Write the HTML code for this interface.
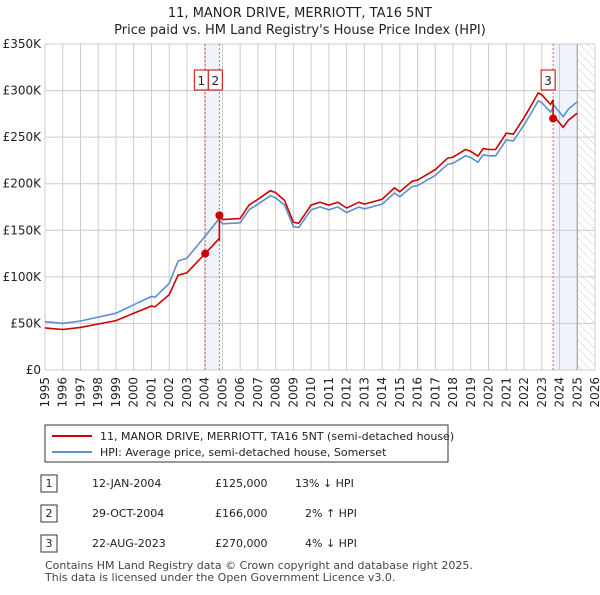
<!DOCTYPE html>
<html><head><meta charset="utf-8"><style>
body{margin:0;background:#fff;font-family:"Liberation Sans","DejaVu Sans",sans-serif;}
svg text{font-family:"DejaVu Sans","Liberation Sans",sans-serif;}
</style></head><body>
<svg id="c" width="600" height="590" viewBox="0 0 600 590" xmlns="http://www.w3.org/2000/svg">
<defs><pattern id="hatch" width="6" height="6" patternUnits="userSpaceOnUse" patternTransform="rotate(-45)"><line x1="0" y1="0" x2="0" y2="6" stroke="#ccc" stroke-width="1"/></pattern></defs>
<text x="300" y="17" text-anchor="middle" font-size="13" fill="#222">11, MANOR DRIVE, MERRIOTT, TA16 5NT</text>
<text x="300" y="34" text-anchor="middle" font-size="13" fill="#222">Price paid vs. HM Land Registry's House Price Index (HPI)</text>
<g id="plot"></g>
<g>
<rect x="45" y="425" width="403" height="37" fill="#fff" stroke="#333" stroke-width="1"/>
<line x1="52" y1="436" x2="92" y2="436" stroke="#cc0000" stroke-width="2"/>
<text x="100" y="440" font-size="11" fill="#222">11, MANOR DRIVE, MERRIOTT, TA16 5NT (semi-detached house)</text>
<line x1="52" y1="452" x2="92" y2="452" stroke="#5b8fd0" stroke-width="2"/>
<text x="100" y="456" font-size="11" fill="#222">HPI: Average price, semi-detached house, Somerset</text>
</g>
<g font-size="11" fill="#222">
<rect x="41" y="475" width="16" height="17" fill="#fff" stroke="#333"/><text x="49" y="487" text-anchor="middle">1</text>
<text x="92" y="487">12-JAN-2004</text><text x="215" y="487">£125,000</text><text x="295" y="487">13% ↓ HPI</text>
<rect x="41" y="505" width="16" height="17" fill="#fff" stroke="#333"/><text x="49" y="517" text-anchor="middle">2</text>
<text x="92" y="517">29-OCT-2004</text><text x="215" y="517">£166,000</text><text x="305" y="517">2% ↑ HPI</text>
<rect x="41" y="535" width="16" height="17" fill="#fff" stroke="#333"/><text x="49" y="547" text-anchor="middle">3</text>
<text x="92" y="547">22-AUG-2023</text><text x="215" y="547">£270,000</text><text x="305" y="547">4% ↓ HPI</text>
</g>
<text x="45" y="569" font-size="11" fill="#444">Contains HM Land Registry data © Crown copyright and database right 2025.</text>
<text x="45" y="581" font-size="11" fill="#444">This data is licensed under the Open Government Licence v3.0.</text>
</svg>
<script>
const hpiYears=[1995,1996,1997,1998,1999,2000,2001,2001.2,2002,2002.5,2003,2004,2004.8,2005,2006,2006.5,2007,2007.7,2008,2008.5,2009,2009.3,2009.6,2010,2010.5,2011,2011.5,2012,2012.7,2013,2014,2014.7,2015,2015.7,2016,2017,2017.7,2018,2018.7,2019,2019.4,2019.7,2020,2020.4,2021,2021.4,2022,2022.5,2022.8,2023,2023.5,2023.7,2024.2,2024.5,2025];
const hpiValues=[52000,50000,52600,56800,61000,70000,79000,78000,93000,117000,120000,143000,162000,157000,158000,172000,178000,187000,185000,177000,154000,153000,161000,172000,175000,172000,175000,169000,175000,173000,178000,190000,186000,197000,198000,209000,221000,222000,230000,228000,223000,231000,230000,230000,247000,246000,263000,279000,289000,287000,277000,284000,272000,280000,288000];
const saleYears=[2004.03,2004.83,2023.64];
const salePrices=[125000,166000,270000];
const saleLabels=["1","2","3"];
const yTicks=[0,50000,100000,150000,200000,250000,300000,350000];
const yTickLabels=["£0","£50K","£100K","£150K","£200K","£250K","£300K","£350K"];
const xTicks=[];for(let y=1995;y<=2026;y++)xTicks.push(y);
const L=45,R=595,T=44,B=370,X0=1995,X1=2026,YMAX=350000,HATCH=2025;
const sx=v=>L+(v-X0)/(X1-X0)*(R-L), sy=v=>B-v/YMAX*(B-T);
const NS="http://www.w3.org/2000/svg", g=document.getElementById('plot');
function mk(t,a,p){const e=document.createElementNS(NS,t);for(const k in a)e.setAttribute(k,a[k]);(p||g).appendChild(e);return e;}
function hpiAt(t){if(t<=hpiYears[0])return hpiValues[0];for(let i=1;i<hpiYears.length;i++){if(t<=hpiYears[i]){const f=(t-hpiYears[i-1])/(hpiYears[i]-hpiYears[i-1]);return hpiValues[i-1]+f*(hpiValues[i]-hpiValues[i-1]);}}return hpiValues[hpiValues.length-1];}
let e=mk('rect',{x:sx(saleYears[0]),y:T,width:sx(saleYears[1])-sx(saleYears[0]),height:B-T,fill:'#eef3fc'});


e=mk('rect',{x:sx(saleYears[2]),y:T,width:sx(HATCH)-sx(saleYears[2]),height:B-T,fill:'#eef3fc'});


e=mk('rect',{x:sx(HATCH),y:T,width:R-sx(HATCH),height:B-T,fill:'url(#hatch)'});


yTicks.forEach((v,i)=>{mk('line',{x1:L,x2:R,y1:sy(v),y2:sy(v),stroke:'#ccc','stroke-width':1});
 const t=mk('text',{x:L-4,y:sy(v)+4,'text-anchor':'end','font-size':12,fill:'#222'});t.textContent=yTickLabels[i];
 
 });
xTicks.forEach(v=>{mk('line',{x1:sx(v),x2:sx(v),y1:T,y2:B,stroke:'#ccc','stroke-width':1});
 const px=sx(v)+4, py=B+7;
 const t=mk('text',{x:px,y:py,'text-anchor':'end','font-size':12,fill:'#222',transform:'rotate(-90 '+px+' '+py+')'});t.textContent=v;
 
 });
mk('line',{x1:sx(HATCH),x2:sx(HATCH),y1:T,y2:B,stroke:'#999','stroke-width':1});
saleYears.forEach(v=>{mk('line',{x1:sx(v),x2:sx(v),y1:T,y2:B,stroke:'#e06060','stroke-width':1,'stroke-dasharray':'2,2'});});
let d=hpiYears.map((y,i)=>(i?'L':'M')+sx(y).toFixed(1)+','+sy(hpiValues[i]).toFixed(1)).join('');
e=mk('path',{d:d,fill:'none',stroke:'#5b8fd0','stroke-width':1.6});


const ratios=salePrices.map((p,i)=>p/hpiAt(saleYears[i]));
const pts=[];
hpiYears.forEach((y,i)=>{let r=y<saleYears[1]?ratios[0]:(y<saleYears[2]?ratios[1]:ratios[2]);pts.push([y,hpiValues[i]*r]);});
saleYears.forEach((y,i)=>{const prev=i?ratios[i-1]:ratios[0];pts.push([y-0.0001,hpiAt(y)*prev]);pts.push([y,salePrices[i]]);});
pts.sort((a,b)=>a[0]-b[0]);
d=pts.map((p,i)=>(i?'L':'M')+sx(p[0]).toFixed(1)+','+sy(p[1]).toFixed(1)).join('');
e=mk('path',{d:d,fill:'none',stroke:'#cc0000','stroke-width':1.6});


const mid=(sx(saleYears[0])+sx(saleYears[1]))/2;
const boxX=[mid-18,mid-4,sx(saleYears[2])-12];
saleYears.forEach((y,i)=>{const c=mk('circle',{cx:sx(y),cy:sy(salePrices[i]),r:4,fill:'#cc0000'});
 
 
 mk('rect',{x:boxX[i],y:70,width:14,height:20,fill:'#fff',stroke:'#cc0000','stroke-width':1});
 const t=mk('text',{x:boxX[i]+7,y:85,'text-anchor':'middle','font-size':12,fill:'#222'});t.textContent=saleLabels[i];
 
 });
</script>
</body></html>
